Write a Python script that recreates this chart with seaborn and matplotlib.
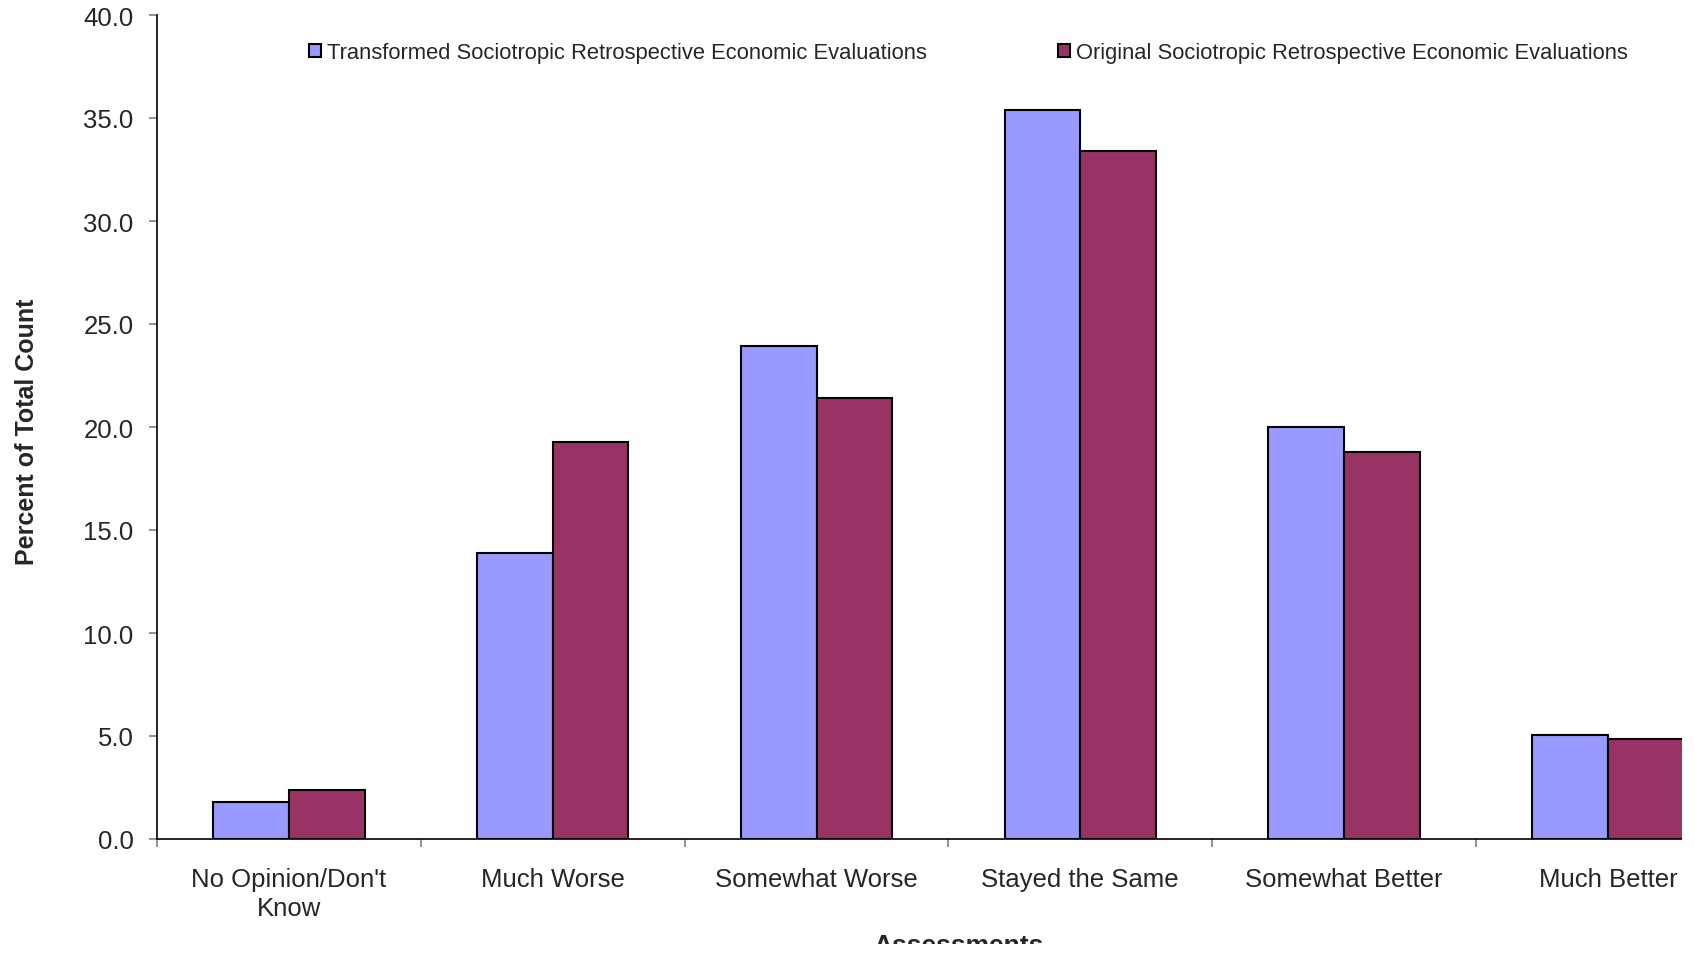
import numpy as np
import pandas as pd
import matplotlib
matplotlib.use("Agg")
import matplotlib.pyplot as plt
from matplotlib.ticker import FormatStrFormatter, FixedLocator
from matplotlib.patches import Rectangle
import seaborn as sns

categories = ["No Opinion/Don't\nKnow", "Much Worse", "Somewhat Worse",
              "Stayed the Same", "Somewhat Better", "Much Better"]
series_names = ["Transformed Sociotropic Retrospective Economic Evaluations",
                "Original Sociotropic Retrospective Economic Evaluations"]
transformed = [1.78, 13.9, 23.95, 35.4, 20.0, 5.05]
original = [2.4, 19.25, 21.4, 33.4, 18.8, 4.85]
colors = ["#9999FF", "#993366"]

df = pd.DataFrame({
    "Assessments": categories * 2,
    "value": transformed + original,
    "series": [series_names[0]] * len(categories) + [series_names[1]] * len(categories),
})

sns.set_style("white")
plt.rcParams["font.family"] = ["Liberation Sans", "DejaVu Sans"]

W, H = 1695, 954
fig = plt.figure(figsize=(W / 100, H / 100), dpi=100)
left, right = 157 / W, 1682 / W
bottom, top = 1 - 840 / H, 1 - 16 / H
ax = fig.add_axes([left, bottom, right - left, top - bottom])

sns.barplot(data=df, x="Assessments", y="value", hue="series", order=categories,
            hue_order=series_names, palette=colors, saturation=1, width=0.574,
            edgecolor="black", linewidth=1.5, ax=ax, legend=False, gap=0)

ax.yaxis.set_major_locator(FixedLocator(np.arange(0, 40.1, 5)))
ax.yaxis.set_major_formatter(FormatStrFormatter("%.1f"))

ax.set_xticks(range(len(categories)))
ax.set_xticklabels(categories, fontsize=18.5, linespacing=1.25)
ax.set_xticks(np.arange(-0.5, len(categories) - 0.9, 1), minor=True)
ax.tick_params(axis="x", which="major", length=0, pad=20, bottom=True)
ax.tick_params(axis="x", which="minor", length=6, width=1.2, color="#808080",
               direction="out", bottom=True)
ax.tick_params(axis="y", which="major", length=6, width=1.2, color="#808080",
               direction="out", labelsize=18.5, pad=11, left=True)

cat_px = 263.8
ax.set_xlim(-0.5, -0.5 + (1682 - 157) / cat_px)
ax.set_ylim(0, 40)

for s in ["top", "right"]:
    ax.spines[s].set_visible(False)
for s in ["left", "bottom"]:
    ax.spines[s].set_color("black")
    ax.spines[s].set_linewidth(1.2)

ax.set_xlabel("")
ax.set_ylabel("Percent of Total Count", fontsize=18, fontweight="bold")
ax.yaxis.set_label_coords(-(157 - 39) / (1682 - 157), 0.5 - 4 / 824)

fig.text(959 / W, 1 - 934 / H, "Assessments", fontsize=19, fontweight="bold",
         ha="center", va="top")

handles = [Rectangle((0, 0), 1, 1, facecolor=c, edgecolor="black", linewidth=1.5) for c in colors]
fig.legend(handles, series_names, loc="center left", bbox_to_anchor=(309 / W, 1 - 53.5 / H),
           ncol=2, frameon=False, fontsize=15.8, handlelength=0.55, handleheight=0.55,
           handletextpad=0.25, columnspacing=6.0, borderpad=0, borderaxespad=0)

# cropped edges of the original picture
fig.patches.append(Rectangle((0, 0), 1, 9 / H, transform=fig.transFigure,
                             facecolor="white", edgecolor="none", zorder=100))
fig.patches.append(Rectangle((1682 / W, 0), 1, 1, transform=fig.transFigure,
                             facecolor="white", edgecolor="none", zorder=100))

fig.savefig("out.png", dpi=100)
